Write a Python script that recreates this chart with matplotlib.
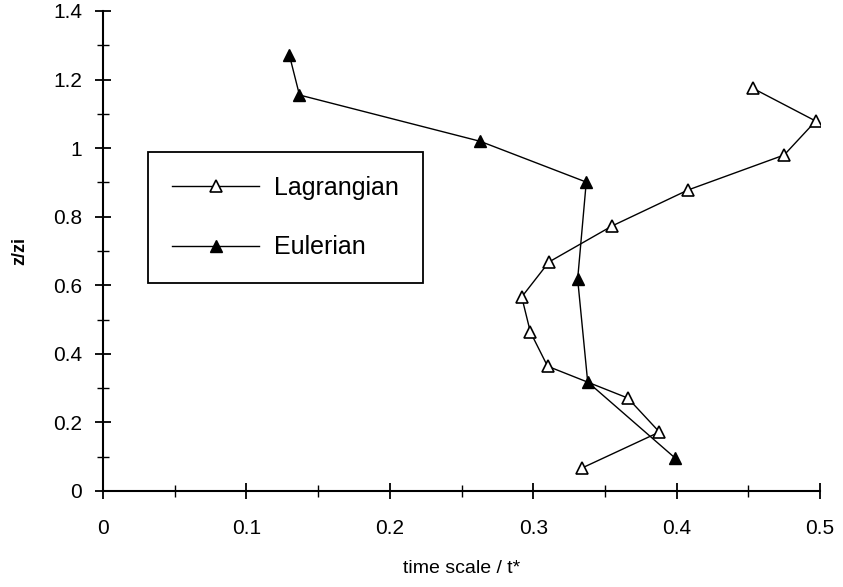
import matplotlib
matplotlib.use("Agg")
import matplotlib.pyplot as plt
from matplotlib.ticker import MultipleLocator

plt.rcParams['font.family'] = ['Liberation Sans', 'DejaVu Sans']

# Lagrangian time scale profile
lag_t = [0.334, 0.388, 0.366, 0.310, 0.298, 0.292, 0.311, 0.355, 0.408, 0.475, 0.497, 0.453]
lag_z = [0.067, 0.172, 0.271, 0.364, 0.464, 0.566, 0.668, 0.773, 0.878, 0.980, 1.079, 1.175]

# Eulerian time scale profile
eul_t = [0.399, 0.338, 0.331, 0.337, 0.263, 0.137, 0.130]
eul_z = [0.096, 0.318, 0.618, 0.901, 1.020, 1.155, 1.271]

x_ticks = [0, 0.1, 0.2, 0.3, 0.4, 0.5]
x_tick_labels = ['0', '0.1', '0.2', '0.3', '0.4', '0.5']
y_ticks = [0, 0.2, 0.4, 0.6, 0.8, 1.0, 1.2, 1.4]
y_tick_labels = ['0', '0.2', '0.4', '0.6', '0.8', '1', '1.2', '1.4']

fig = plt.figure(figsize=(8.43, 5.87), dpi=100)
ax = fig.add_axes([103 / 843, 96 / 587, 717 / 843, 480 / 587])

ax.plot(lag_t, lag_z, color='black', lw=1.0, marker='^', markersize=8,
        markerfacecolor='white', markeredgecolor='black', markeredgewidth=1.2,
        label='Lagrangian')
ax.plot(eul_t, eul_z, color='black', lw=1.0, marker='^', markersize=8,
        markerfacecolor='black', markeredgecolor='black',
        label='Eulerian')

ax.set_xlim(0, 0.5)
ax.set_ylim(0, 1.4)
ax.set_xticks(x_ticks)
ax.set_xticklabels(x_tick_labels)
ax.set_yticks(y_ticks)
ax.set_yticklabels(y_tick_labels)
ax.xaxis.set_minor_locator(MultipleLocator(0.05))
ax.yaxis.set_minor_locator(MultipleLocator(0.1))

ax.spines['top'].set_visible(False)
ax.spines['right'].set_visible(False)
ax.spines['left'].set_linewidth(1.5)
ax.spines['bottom'].set_linewidth(1.5)
ax.tick_params(which='major', direction='inout', length=12, width=1.3,
               labelsize=15, pad=14)
ax.tick_params(which='minor', direction='inout', length=8, width=1.0)
ax.tick_params(axis='y', pad=9)

ax.set_xlabel('time scale / t*', fontsize=14, labelpad=16)
ax.set_ylabel('z/zi', fontsize=13, fontweight='bold', labelpad=18)

leg = ax.legend(loc='upper left', bbox_to_anchor=(0.063, 0.706),
                fontsize=18, handlelength=3.5, handletextpad=0.6,
                labelspacing=1.42, borderpad=0.95, borderaxespad=0,
                fancybox=False, framealpha=1)
leg.get_frame().set_edgecolor('black')
leg.get_frame().set_linewidth(1.3)

fig.savefig('out.png', dpi=100)
